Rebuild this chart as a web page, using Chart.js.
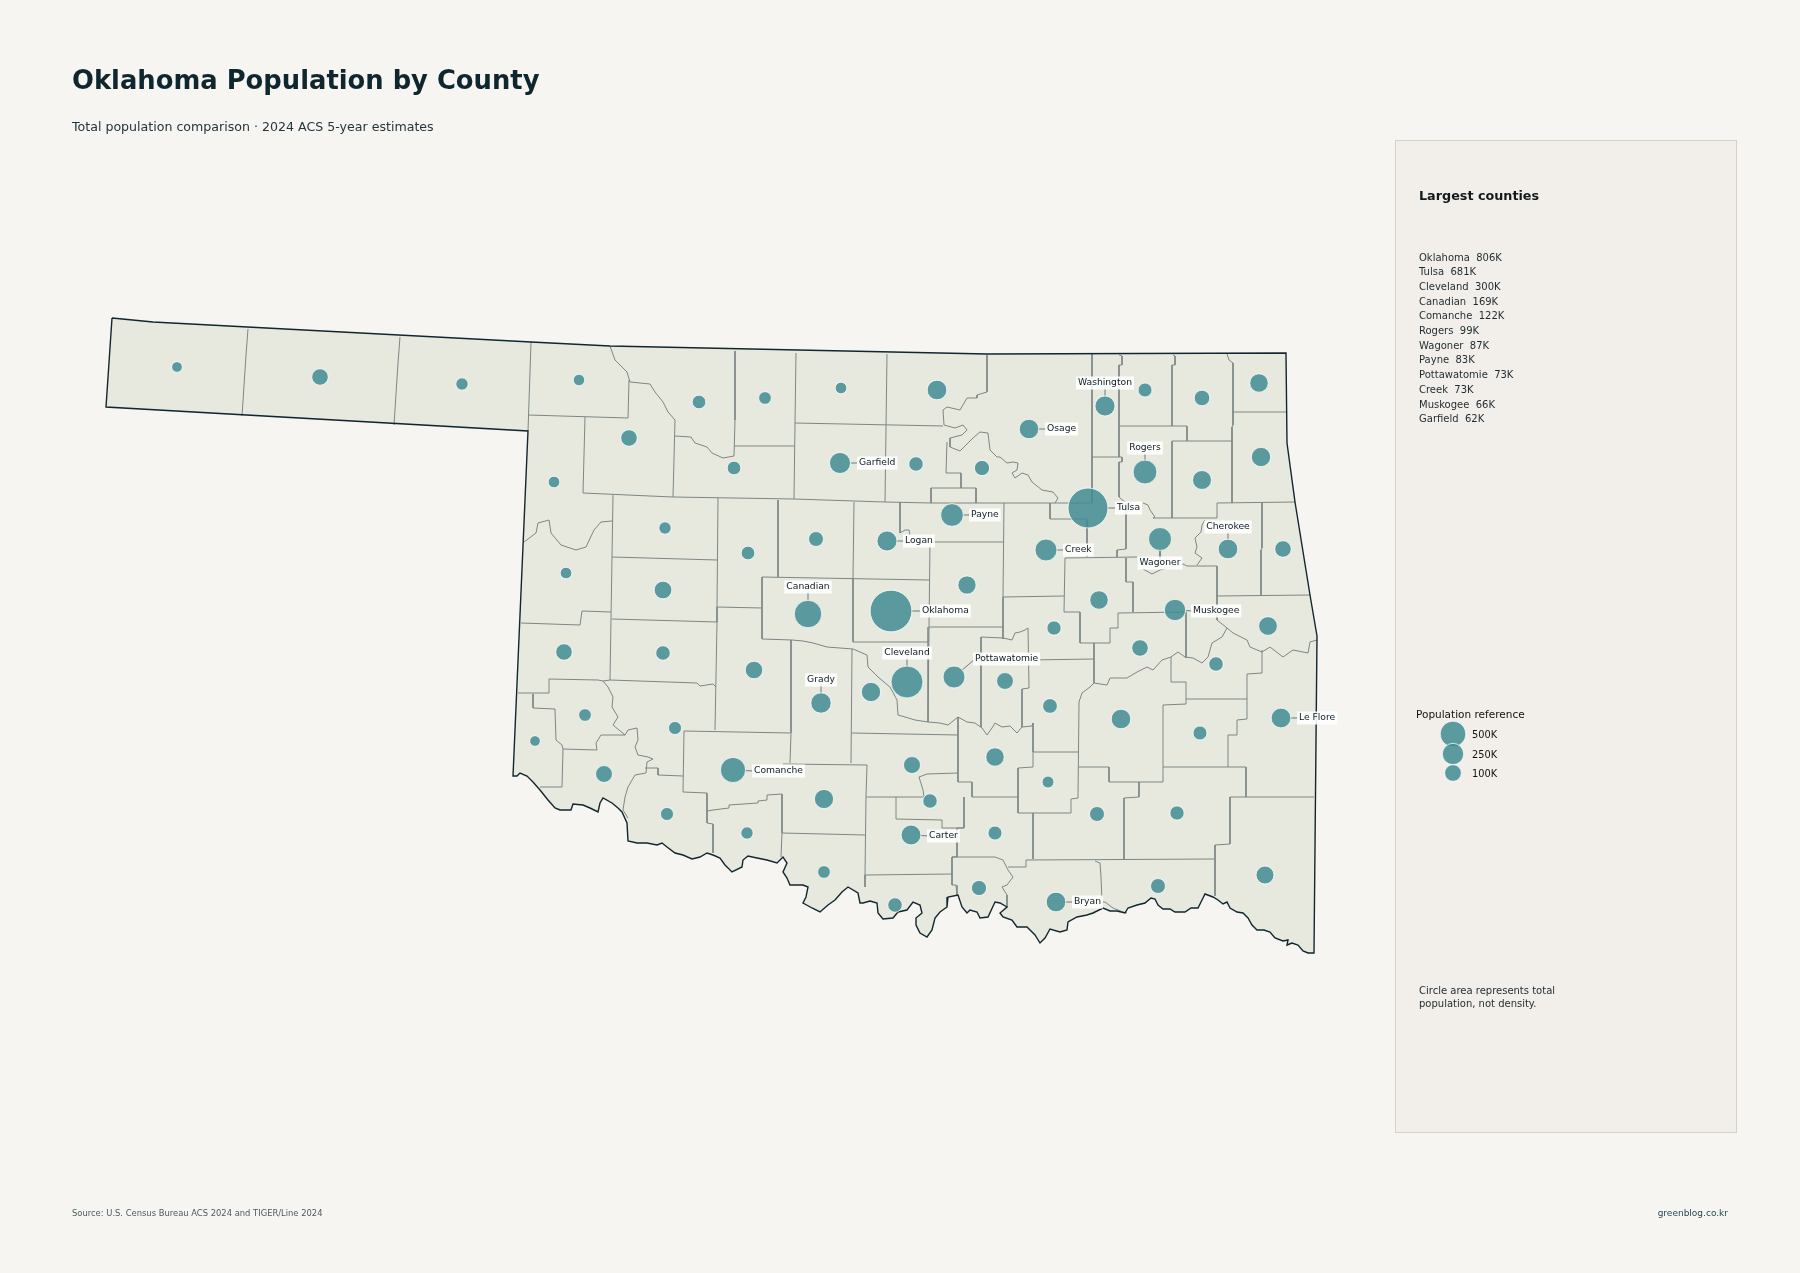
<!DOCTYPE html>
<html>
<head>
<meta charset="utf-8">
<title>Oklahoma Population by County</title>
<script src="https://cdn.jsdelivr.net/npm/chart.js@4"></script>
<style>
    html, body { margin: 0; padding: 0; background: #f6f5f1; }
    body { width: 1800px; height: 1273px; position: relative; overflow: hidden; font-family: "DejaVu Sans", sans-serif; }
    #map { position: absolute; left: 0; top: 0; }
    .txt { position: absolute; white-space: pre; line-height: 1; transform: translateY(-50%); }
    #panel { position: absolute; left: 1395px; top: 140px; width: 342px; height: 993px; background: #f2efea; border: 1px solid #d3d3c8; box-sizing: border-box; }
</style>
</head>
<body>
<div id="panel"></div>
<canvas id="map" width="1800" height="1273"></canvas>
<div id="texts"></div>
<script>
// County table
const countyNames = ['Cimarron','Texas','Beaver','Harper','Woodward','Ellis','Roger Mills','Woods','Alfalfa','Grant','Kay','Major','Garfield','Noble','Pawnee','Payne','Logan','Kingfisher','Blaine','Dewey','Custer','Canadian','Oklahoma','Lincoln','Washington','Nowata','Craig','Ottawa','Osage','Rogers','Mayes','Delaware','Tulsa','Wagoner','Cherokee','Adair','Creek','Okmulgee','Muskogee','Okfuskee','Sequoyah','Beckham','Washita','Caddo','Grady','McClain','Greer','Harmon','Kiowa','Comanche','Jackson','Stephens','Tillman','Cotton','Jefferson','Love','Cleveland','Pottawatomie','Seminole','McIntosh','Haskell','Hughes','Pittsburg','Latimer','Le Flore','Pontotoc','Garvin','Murray','Coal','Carter','Johnston','Atoka','Pushmataha','McCurtain','Marshall','Bryan','Choctaw'];
const countyX = [177,320,462,579,629,554,566,699,765,841,937,734,840,916,982,952,887,816,748,665,663,808,891,967,1105,1145,1202,1259,1029,1145,1202,1261,1088,1160,1228,1283,1046,1099,1175,1054,1268,564,663,754,821,871,585,535,675,733,604,824,667,747,824,895,907,954,1005,1140,1216,1050,1121,1200,1281,995,912,930,1048,911,995,1097,1177,1265,979,1056,1158];
const countyY = [367,377,384,380,438,482,573,402,398,388,390,468,463,464,468,515,541,539,553,528,590,614,611,585,406,390,398,383,429,472,480,457,508,539,549,549,550,600,610,628,626,652,653,670,703,692,715,741,728,770,774,799,814,833,872,905,682,677,681,648,664,706,719,733,718,757,765,801,782,835,833,814,813,875,888,902,886];
// Population in thousands; unlabelled counties estimated from circle size
const countyPop = [4.5,25,8,6,25,6.4,6.4,12,9,6.4,48,12,62,15,18,83,52,17,12,8,32,169,806,36,52,13,20,38,47,99,42,45,681,87,48,25,73,38,66,14,40,25,15,31,55,45,9,4.5,10,122,27,44,10,8,9,15,300,73,27,25,15,16,47,13,49,38,28,15,7,50,13,17,14,34,18,48,17];

// Labelled counties and where their label sits
const labelNames = ['Garfield','Payne','Logan','Canadian','Oklahoma','Washington','Osage','Rogers','Tulsa','Cherokee','Creek','Wagoner','Muskogee','Cleveland','Pottawatomie','Le Flore','Carter','Bryan','Grady','Comanche'];
const labelX = [859,971,905,808,922,1105,1047,1145,1117,1228,1065,1160,1193,907,975,1299,929,1074,821,754];
const labelY = [463,515,541,587,611,383,429,448,508,527,550,563,611,653,659,718,836,902,680,771];
const labelAlign = ['left','left','left','center','left','center','left','center','left','center','left','center','left','center','left','left','left','left','center','left'];

// Reference circles
const refValues = [500, 250, 100];
const refTicks = ['500K', '250K', '100K'];
const refX = [1453, 1453, 1453];
const refY = [734, 754, 773];

// Largest counties panel
const topNames = ['Oklahoma','Tulsa','Cleveland','Canadian','Comanche','Rogers','Wagoner','Payne','Pottawatomie','Creek','Muskogee','Garfield'];
const topValues = ['806K','681K','300K','169K','122K','99K','87K','83K','73K','73K','66K','62K'];

// State outline, clockwise from the north-west corner
const stateOutline = [[112,318],[153,322],[531,342],[610,346],[987,354],[1286,353],[1287,443],[1295,502],[1310,595],[1317,636],[1314,953],
    [1308,953],[1303,951],[1298,945],[1292,943],[1287,945],[1288,940],[1283,941],[1275,938],[1270,932],[1264,930],[1257,930],[1252,925],[1248,918],[1243,913],[1237,912],[1230,908],[1227,902],[1223,904],[1218,900],[1213,897],[1205,894],[1202,900],[1198,908],[1191,908],[1185,912],[1175,912],[1170,909],[1163,909],[1158,905],[1155,899],[1151,898],[1145,903],[1137,905],[1128,908],[1125,913],[1117,911],[1110,911],[1103,908],[1093,913],[1087,915],[1077,917],[1068,922],[1067,930],[1060,932],[1050,929],[1045,938],[1040,943],[1035,935],[1027,927],[1017,927],[1012,920],[1003,917],[1000,913],[1007,907],[1000,903],[995,902],[988,917],[980,918],[977,912],[970,910],[967,913],[962,907],[958,895],[948,897],[947,907],[940,912],[935,918],[932,930],[927,937],[920,933],[916,925],[916,918],[922,913],[920,905],[913,902],[907,910],[898,912],[893,918],[883,919],[878,913],[877,903],[870,901],[863,903],[860,903],
    [858,893],[848,887],[842,892],[835,900],[828,905],[820,912],[812,908],[803,903],[806,897],[808,887],[803,885],[790,885],[787,878],[783,872],[787,863],[783,857],[777,863],[767,860],[757,858],[748,856],[743,860],[742,867],[732,872],[725,865],[720,858],[713,855],[707,853],[700,857],[692,859],[683,855],[675,853],[667,847],[662,843],[657,845],[647,843],[637,843],[628,841],[627,823],[622,812],[618,808],[612,803],[603,798],[600,803],[598,812],[590,808],[583,805],[573,804],[571,810],[560,810],[555,808],[548,800],[540,790],[533,782],[527,776],[520,773],[517,776],[513,776],
    [528,431],[106,407],[112,318]];

// County borders, one polyline each
const countyBorders = [
    [[248,329],[246,355],[242,416]],
    [[400,337],[398,363],[394,425]],
    [[531,342],[528,431]],
    [[528,415],[628,418]],
    [[610,346],[615,360],[627,372],[630,382],[650,384],[655,392],[663,402],[668,412],[675,420],[673,497]],
    [[628,418],[629,380]],
    [[585,417],[583,493],[650,496],[673,497],[794,499],[885,502],[931,503],[976,503],[1092,503]],
    [[675,436],[691,437],[695,443],[707,447],[712,453],[723,458],[734,456]],
    [[735,351],[735,420],[734,456]],
    [[734,446],[795,446]],
    [[796,353],[795,423],[794,499]],
    [[795,423],[943,426]],
    [[887,354],[885,502]],
    [[987,355],[987,392],[977,395],[977,398],[967,398],[960,410],[947,407],[943,410],[944,425],[955,428],[963,425],[967,430],[962,435],[950,438],[950,447],[960,451],[973,438],[980,432],[988,433],[990,450],[997,457],[1000,457],[1007,463],[1013,462],[1018,463],[1017,470],[1012,473],[1015,478],[1022,473],[1028,475],[1032,482],[1042,490],[1053,492],[1058,498],[1055,503]],
    [[947,442],[946,473],[961,473],[961,488],[931,488],[931,503]],
    [[961,488],[976,488],[976,503]],
    [[1050,503],[1050,519],[1087,519],[1087,557]],
    [[1092,354],[1092,503]],
    [[1119,355],[1122,356],[1122,365],[1119,365],[1119,426],[1119,457],[1122,457],[1122,462],[1119,462],[1119,497],[1126,503],[1126,549],[1117,550],[1117,557]],
    [[1092,457],[1119,457]],
    [[1119,426],[1187,426],[1187,441]],
    [[1172,441],[1232,441]],
    [[1172,441],[1172,518]],
    [[1143,503],[1148,505],[1150,510],[1155,517],[1153,518],[1172,518],[1217,518],[1217,503],[1295,502]],
    [[1173,355],[1175,356],[1175,365],[1172,365],[1172,426]],
    [[1227,354],[1229,360],[1233,363],[1233,412],[1233,425],[1232,427],[1232,503]],
    [[1233,412],[1286,412]],
    [[1262,503],[1262,548],[1261,550],[1261,596]],
    [[1205,520],[1202,525],[1201,532],[1195,538],[1197,547],[1195,553],[1202,558],[1197,565]],
    [[1183,564],[1187,566],[1217,566],[1217,596],[1310,595]],
    [[1065,558],[1137,557]],
    [[1143,569],[1152,574],[1160,570],[1183,564]],
    [[1126,558],[1126,582],[1133,582],[1133,612]],
    [[1065,558],[1064,612],[1080,612],[1080,643],[1110,643],[1110,628],[1118,628],[1118,613],[1186,612],[1186,658]],
    [[1217,596],[1217,620],[1227,628]],
    [[1004,503],[1003,597],[1003,639]],
    [[1003,597],[1064,596]],
    [[930,542],[1003,542]],
    [[930,542],[929,627]],
    [[900,502],[900,529],[900,533],[905,530],[909,530],[910,535]],
    [[929,627],[1003,627]],
    [[981,637],[1003,638],[1012,640],[1015,633],[1020,632],[1025,630],[1028,628],[1029,688],[1022,689],[1022,727]],
    [[981,637],[981,727]],
    [[929,627],[928,642],[928,722]],
    [[853,642],[928,642]],
    [[1029,660],[1094,659]],
    [[1094,643],[1094,683]],
    [[762,639],[792,640],[803,641],[813,643],[827,647],[840,648],[853,649],[867,655],[868,667],[878,677],[890,687],[897,700],[898,715],[905,717],[915,720],[928,722],[940,723],[948,725],[958,717],[967,722],[975,723],[982,728],[987,735],[992,728],[995,723],[1002,727],[1010,726],[1017,733],[1022,727],[1032,726],[1033,723],[1033,752],[1078,752]],
    [[762,577],[762,639]],
    [[762,577],[929,580]],
    [[854,502],[853,578],[853,642]],
    [[791,640],[791,733],[790,763]],
    [[852,649],[851,763]],
    [[783,764],[867,765],[866,796],[865,875],[865,887]],
    [[782,794],[782,833],[781,857]],
    [[782,833],[865,835]],
    [[852,733],[958,735]],
    [[958,717],[958,782],[972,782],[972,797],[1018,797]],
    [[964,797],[964,828],[957,828],[957,857],[952,857],[952,885],[956,885],[957,895]],
    [[964,828],[942,828],[942,820],[896,819],[896,797]],
    [[866,797],[923,797]],
    [[958,773],[927,774],[919,777],[923,790],[924,797]],
    [[865,875],[952,874]],
    [[952,857],[995,857],[1003,860],[1008,870],[1013,877],[1007,885],[1002,887],[1007,895],[1007,907]],
    [[1008,867],[1026,867],[1026,860],[1214,859]],
    [[1033,813],[1033,859]],
    [[1018,768],[1018,813],[1071,813],[1071,799],[1078,798],[1079,702]],
    [[1018,768],[1033,767],[1033,752]],
    [[1079,767],[1109,767],[1109,782],[1139,782],[1139,797],[1124,798],[1124,859]],
    [[1139,782],[1163,782],[1163,705],[1186,704],[1186,682],[1171,682],[1171,657]],
    [[1163,767],[1246,767],[1246,797],[1230,797],[1230,844],[1215,845],[1215,896]],
    [[1228,767],[1228,735],[1237,735],[1237,720],[1247,719],[1247,674],[1262,673],[1262,650]],
    [[1186,699],[1247,699]],
    [[1246,797],[1314,797]],
    [[1095,861],[1100,863],[1101,877],[1102,902],[1105,902],[1113,908],[1123,912],[1127,913]],
    [[1079,702],[1082,693],[1090,687],[1094,683],[1107,685],[1110,678],[1127,678],[1137,672],[1147,667],[1153,670],[1162,660],[1171,657],[1178,652],[1185,657],[1193,658],[1202,663],[1208,657],[1212,643],[1222,637],[1227,628],[1233,633],[1247,640],[1250,647],[1262,652],[1270,647],[1283,657],[1293,650],[1308,653],[1310,642],[1317,640]],
    [[613,495],[612,557],[611,619],[610,680]],
    [[612,557],[717,560]],
    [[718,498],[717,607],[717,622],[715,730]],
    [[717,607],[762,608]],
    [[778,500],[778,577]],
    [[612,619],[717,622]],
    [[610,680],[697,683],[700,686],[713,684],[716,687]],
    [[582,611],[611,612]],
    [[582,611],[580,625],[521,623]],
    [[524,542],[536,533],[538,523],[549,520],[551,533],[561,545],[576,550],[586,547],[594,530],[601,522],[612,521]],
    [[518,693],[549,693],[549,679],[598,680],[603,681],[610,680]],
    [[533,694],[533,708],[555,709],[556,740],[562,745],[563,749],[597,750],[596,743],[601,735],[625,735]],
    [[603,681],[608,687],[613,697],[612,707],[618,717],[613,725],[625,735],[628,730],[637,728],[638,740],[635,747],[638,755],[648,757],[653,759],[647,762],[646,773],[635,775],[628,787],[625,797],[623,810],[628,818]],
    [[563,749],[562,787],[540,787]],
    [[645,768],[658,768],[658,775],[683,776]],
    [[684,731],[790,733]],
    [[684,731],[683,792],[707,793],[707,823],[713,824],[713,853]],
    [[707,811],[713,810],[729,808],[729,805],[758,803],[758,801],[767,800],[767,795],[782,794]]
];

// Circle radius from population in thousands
function popRadius(pop) {
    return 0.4 + 3.25 * Math.pow(pop, 0.275);
}

function toPoints(line) {
    return line.map(p => ({ x: p[0], y: p[1] }));
}

function lineDataset(points, color, width, order) {
    return {
        type: 'scatter',
        showLine: true,
        data: points,
        borderColor: color,
        borderWidth: width,
        pointRadius: 0,
        fill: false,
        order: order
    };
}

// Leader lines run from the circle edge to the label, which then covers the end
function leaderDatasets() {
    return labelNames.map((name, i) => {
        const c = countyNames.indexOf(name);
        const dx = labelX[i] - countyX[c];
        const dy = labelY[i] - countyY[c];
        const len = Math.hypot(dx, dy);
        const r = popRadius(countyPop[c]);
        return lineDataset([
            { x: countyX[c] + dx / len * r, y: countyY[c] + dy / len * r },
            { x: labelX[i], y: labelY[i] }
        ], '#6d7b7c', 1, 3);
    });
}

// County labels on white boxes, placed through the scales
const labelPlugin = {
    id: 'countyLabels',
    afterDatasetsDraw(chart) {
        const ctx = chart.ctx;
        ctx.save();
        ctx.font = '9.2px "DejaVu Sans"';
        ctx.textBaseline = 'middle';
        ctx.textAlign = 'left';
        labelNames.forEach((name, i) => {
            const w = ctx.measureText(name).width;
            let left = chart.scales.x.getPixelForValue(labelX[i]);
            const y = chart.scales.y.getPixelForValue(labelY[i]);
            if (labelAlign[i] === 'center') left -= w / 2;
            ctx.fillStyle = 'rgba(255,255,255,0.9)';
            ctx.fillRect(left - 2, y - 6.5, w + 4, 13);
            ctx.fillStyle = '#0f1d23';
            ctx.fillText(name, left, y);
        });
        ctx.restore();
    }
};

const circleData = countyNames.map((name, i) => ({ x: countyX[i], y: countyY[i], r: popRadius(countyPop[i]) }));
const refData = refValues.map((v, i) => ({ x: refX[i], y: refY[i], r: popRadius(v) * 0.7 }));

new Chart(document.getElementById('map'), {
    type: 'bubble',
    data: {
        datasets: [
            {
                type: 'scatter',
                showLine: true,
                data: toPoints(stateOutline),
                borderColor: 'rgba(0,0,0,0)',
                borderWidth: 0,
                backgroundColor: '#e7e9df',
                pointRadius: 0,
                fill: 'shape',
                order: 9
            },
            ...countyBorders.map(line => lineDataset(toPoints(line), '#7c8785', 1, 5)),
            lineDataset(toPoints(stateOutline), '#12262e', 1.4, 4),
            ...leaderDatasets(),
            {
                label: 'Population',
                data: circleData,
                backgroundColor: 'rgba(65,140,147,0.85)',
                borderColor: 'rgba(255,255,255,0.75)',
                borderWidth: 1,
                order: 1
            },
            {
                label: 'Population reference',
                data: refData,
                backgroundColor: 'rgba(65,140,147,0.85)',
                borderColor: 'rgba(255,255,255,0.75)',
                borderWidth: 1,
                order: 1
            }
        ]
    },
    options: {
        responsive: false,
        animation: false,
        layout: { padding: 0, autoPadding: false },
        plugins: {
            legend: { display: false },
            tooltip: { enabled: false }
        },
        scales: {
            x: { type: 'linear', min: 0, max: 1800, display: false },
            y: { type: 'linear', min: 0, max: 1273, reverse: true, display: false }
        }
    },
    plugins: [labelPlugin]
});

// Page text outside the map
function addText(str, left, y, size, color, weight, right) {
    const el = document.createElement('div');
    el.className = 'txt';
    el.textContent = str;
    el.style.top = y + 'px';
    if (right) el.style.right = (1800 - left) + 'px';
    else el.style.left = left + 'px';
    el.style.fontSize = size + 'px';
    el.style.color = color;
    if (weight) el.style.fontWeight = weight;
    document.getElementById('texts').appendChild(el);
}

addText('Oklahoma Population by County', 72, 81, 25.8, '#10262e', 'bold');
addText('Total population comparison · 2024 ACS 5-year estimates', 72, 126.5, 12.6, '#26353b');
addText('Largest counties', 1419, 195.5, 12.75, '#12191c', 'bold');
topNames.forEach((name, i) => {
    addText(name + '  ' + topValues[i], 1419, 257.5 + i * 14.7, 10, '#1f2a2e');
});
addText('Population reference', 1416, 714, 10.5, '#111111');
refTicks.forEach((t, i) => addText(t, 1472, refY[i] + 0.5, 9.8, '#111111'));
addText('Circle area represents total', 1419, 990.5, 10, '#1f2a2e');
addText('population, not density.', 1419, 1003.5, 10, '#1f2a2e');
addText('Source: U.S. Census Bureau ACS 2024 and TIGER/Line 2024', 72, 1213, 8.4, '#4b5a5f');
addText('greenblog.co.kr', 1728, 1213, 9, '#1f4a50', null, true);
</script>
</body>
</html>
